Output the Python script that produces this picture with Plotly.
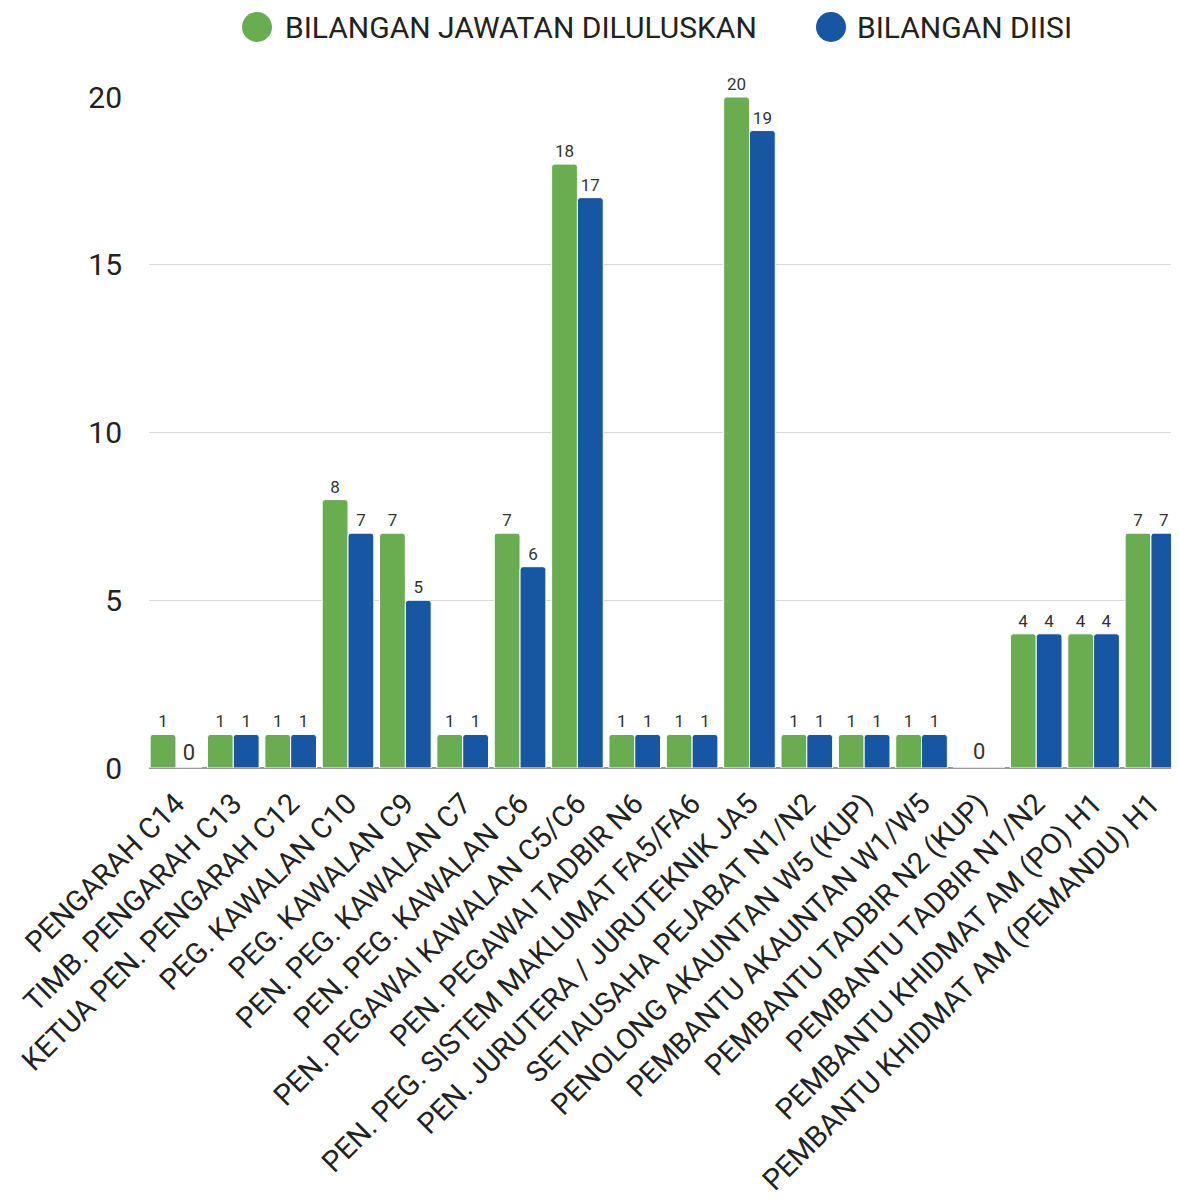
import plotly.graph_objects as go

categories = [
    "PENGARAH C14",
    "TIMB. PENGARAH C13",
    "KETUA PEN. PENGARAH C12",
    "PEG. KAWALAN C10",
    "PEG. KAWALAN C9",
    "PEN. PEG. KAWALAN C7",
    "PEN. PEG. KAWALAN C6",
    "PEN. PEGAWAI KAWALAN C5/C6",
    "PEN. PEGAWAI TADBIR N6",
    "PEN. PEG. SISTEM MAKLUMAT FA5/FA6",
    "PEN. JURUTERA / JURUTEKNIK JA5",
    "SETIAUSAHA PEJABAT N1/N2",
    "PENOLONG AKAUNTAN W5 (KUP)",
    "PEMBANTU AKAUNTAN W1/W5",
    "PEMBANTU TADBIR N2 (KUP)",
    "PEMBANTU TADBIR N1/N2",
    "PEMBANTU KHIDMAT AM (PO) H1",
    "PEMBANTU KHIDMAT AM (PEMANDU) H1",
]
diluluskan = [1, 1, 1, 8, 7, 1, 7, 18, 1, 1, 20, 1, 1, 1, 0, 4, 4, 7]
diisi = [0, 1, 1, 7, 5, 1, 6, 17, 1, 1, 19, 1, 1, 1, 0, 4, 4, 7]
series_names = ["BILANGAN JAWATAN DILULUSKAN", "BILANGAN DIISI"]
y_ticks = [0, 5, 10, 15, 20]

GREEN = "#6aad50"
BLUE = "#1656a3"
FONT = "Roboto"
COLORS = [GREEN, BLUE]
LABEL_SIZE, ZERO_LABEL_SIZE = 17, 22

W, H = 1163, 1188
ML, MR, MT, MB = 141, 0, 89, 428
PW, PH = W - ML - MR, H - MT - MB


def px_to_paper(fx, fy):
    return (fx - ML) / PW, 1 + (MT - fy) / PH


both_zero = [a == 0 and b == 0 for a, b in zip(diluluskan, diisi)]

fig = go.Figure()
for vals, col, name in [(diluluskan, GREEN, series_names[0]),
                        (diisi, BLUE, series_names[1])]:
    txt = ["" if z else str(v) for v, z in zip(vals, both_zero)]
    sizes = [ZERO_LABEL_SIZE if v == 0 else LABEL_SIZE for v in vals]
    fig.add_trace(go.Bar(
        x=categories, y=vals, text=txt, textposition="outside", name=name,
        textfont=dict(size=sizes, color="#333333", family=FONT),
        marker=dict(color=col, line=dict(color="white", width=1)),
        cliponaxis=False, showlegend=False,
    ))

for cat, z in zip(categories, both_zero):
    if z:
        fig.add_annotation(x=cat, y=0, text="0", showarrow=False, yanchor="bottom",
                           yshift=2, font=dict(size=ZERO_LABEL_SIZE, color="#333333", family=FONT))

# Legend drawn as circle shapes + text (legend positions in figure pixels)
legend_circle_x = [249, 823]
legend_text_x = [275, 847]
legend_y = 19
for name, col, cx, tx in zip(series_names, COLORS, legend_circle_x, legend_text_x):
    px_, py_ = px_to_paper(cx, legend_y)
    fig.add_shape(type="circle", xref="paper", yref="paper",
                  xsizemode="pixel", ysizemode="pixel",
                  xanchor=px_, yanchor=py_, x0=-15, x1=15, y0=-15, y1=15,
                  fillcolor=col, line=dict(width=0))
    tpx, _ = px_to_paper(tx, legend_y)
    fig.add_annotation(xref="paper", yref="paper", x=tpx, y=py_, xanchor="left",
                       yanchor="middle", text=name, showarrow=False,
                       font=dict(size=30, color="#222222", family=FONT))

fig.update_layout(
    width=W, height=H,
    margin=dict(l=ML, r=MR, t=MT, b=MB),
    paper_bgcolor="white", plot_bgcolor="white",
    barmode="group", bargap=0.1, bargroupgap=0.0,
    barcornerradius=3,
    font=dict(family=FONT, color="#333333"),
    showlegend=False,
    xaxis=dict(
        range=[-0.47, 17.35], tickangle=-45, tickfont=dict(size=29, color="#222222", family=FONT),
        showgrid=False, showline=False, ticks="outside", ticklen=6, tickcolor="rgba(0,0,0,0)",
        automargin=False,
    ),
    yaxis=dict(
        range=[0, 20], tickvals=y_ticks, tickfont=dict(size=30, color="#222222", family=FONT),
        showgrid=True, gridcolor="#d9d9d9", gridwidth=1,
        zeroline=True, zerolinecolor="#999999", zerolinewidth=1.5,
        ticks="outside", ticklen=20, tickcolor="rgba(0,0,0,0)",
        automargin=False,
    ),
)

fig.write_html("out.html")
